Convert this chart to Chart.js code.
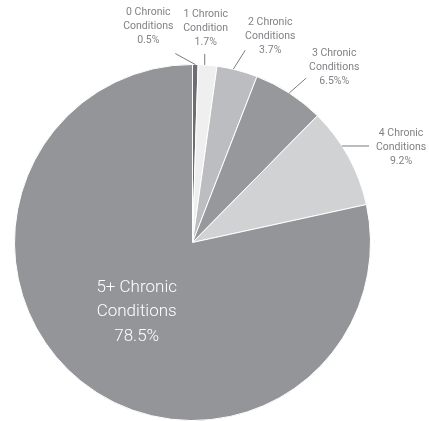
<!DOCTYPE html>
<html>
<head>
<meta charset="utf-8">
<script src="https://cdn.jsdelivr.net/npm/chart.js@4/dist/chart.umd.min.js"></script>
<style>
  html, body { margin: 0; padding: 0; background: #fff; }
  #wrap { position: relative; width: 429px; height: 421px; }
</style>
</head>
<body>
<div id="wrap"><canvas id="chart"></canvas></div>
<script>
// chart values
const categories = ['0 Chronic Conditions', '1 Chronic Condition', '2 Chronic Conditions',
  '3 Chronic Conditions', '4 Chronic Conditions', '5+ Chronic Conditions'];
const categoryLines = [['0 Chronic', 'Conditions'], ['1 Chronic', 'Condition'], ['2 Chronic', 'Conditions'],
  ['3 Chronic', 'Conditions'], ['4 Chronic', 'Conditions'], ['5+ Chronic', 'Conditions']];
const shares = [0.5, 1.7, 3.7, 6.5, 9.2, 78.5];
const shareLabels = ['0.5%', '1.7%', '3.7%', '6.5%%', '9.2%', '78.5%'];
const sliceColors = ['#6d6e71', '#efeff0', '#bcbdc0', '#97989b', '#d1d2d4', '#939598'];

// callout layout: where on the slice the leader starts (0..1 of its angle),
// leader end relative to that point, label centre relative to leader end
const callouts = [
  { frac: 0.5, end: [-20, -11], text: [-27, -27] },
  { frac: 0.35, end: [0, -11], text: [1, -26] },
  { frac: 0.4, end: [12, -19], text: [25, -14] },
  { frac: 0.5, end: [17, -15], text: [28, -11] },
  { frac: 0.38, end: [27, 0], text: [32, 1] },
  null
];

const calloutPlugin = {
  id: 'callouts',
  afterDatasetsDraw(chart) {
    const ctx = chart.ctx;
    const arcs = chart.getDatasetMeta(0).data;
    ctx.save();
    arcs.forEach((arc, i) => {
      const lines = categoryLines[i].concat([shareLabels[i]]);
      const p = arc.getProps(['x', 'y', 'startAngle', 'endAngle', 'outerRadius'], true);
      const c = callouts[i];
      if (!c) {
        // label inside the big slice
        const pos = arc.tooltipPosition(true);
        ctx.fillStyle = '#ffffff';
        ctx.font = '300 17px Roboto';
        ctx.textAlign = 'center';
        ctx.textBaseline = 'middle';
        lines.forEach((t, k) => ctx.fillText(t, pos.x, pos.y + (k - 1) * 24.5));
        return;
      }
      const a = p.startAngle + (p.endAngle - p.startAngle) * c.frac;
      const sx = p.x + Math.cos(a) * p.outerRadius;
      const sy = p.y + Math.sin(a) * p.outerRadius;
      const ex = sx + c.end[0], ey = sy + c.end[1];
      ctx.strokeStyle = '#7a7b7e';
      ctx.lineWidth = 1;
      ctx.beginPath();
      ctx.moveTo(sx, sy);
      ctx.lineTo(ex, ey);
      ctx.stroke();
      const tx = ex + c.text[0], ty = ey + c.text[1];
      ctx.fillStyle = '#808285';
      ctx.font = '10.5px Roboto';
      ctx.textAlign = 'center';
      ctx.textBaseline = 'middle';
      lines.forEach((t, k) => ctx.fillText(t, tx, ty + (k - 1) * 14));
    });
    ctx.restore();
  }
};

new Chart(document.getElementById('chart'), {
  type: 'pie',
  data: {
    labels: categories,
    datasets: [{
      data: shares,
      backgroundColor: sliceColors,
      borderColor: '#ffffff',
      borderWidth: 1
    }]
  },
  options: {
    responsive: true,
    maintainAspectRatio: false,
    animation: false,
    layout: { padding: { top: 64, bottom: 0, left: 0, right: 44 } },
    plugins: {
      legend: { display: false },
      tooltip: { enabled: false }
    }
  },
  plugins: [calloutPlugin]
});
</script>
</body>
</html>
